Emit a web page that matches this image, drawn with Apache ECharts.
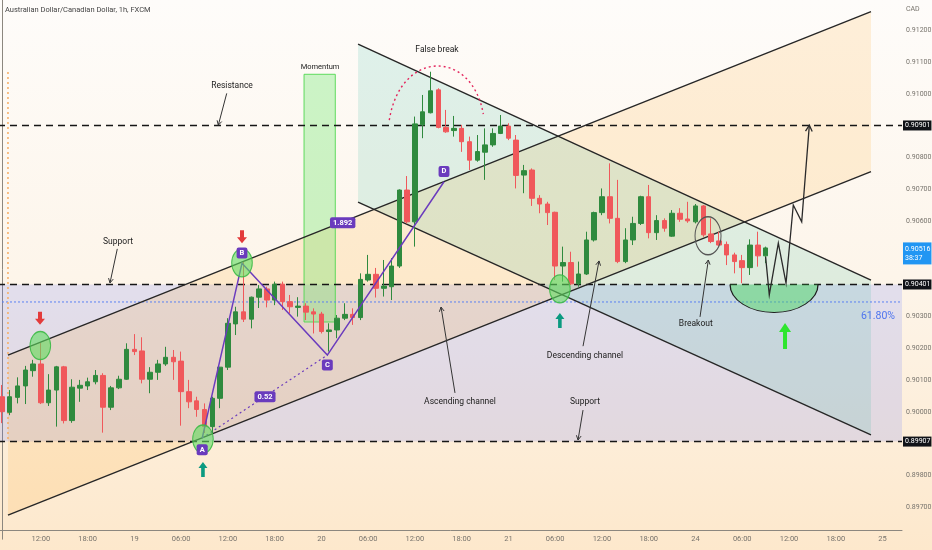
<!DOCTYPE html>
<html><head><meta charset="utf-8">
<script src="https://cdn.jsdelivr.net/npm/echarts/dist/echarts.min.js"></script>
<style>
html,body{margin:0;padding:0;background:#fff;}
#c{width:932px;height:550px;background:linear-gradient(to bottom,#fefcfa 0%,#fdf5ea 50%,#fde8cc 100%);}
</style></head><body><div id="c"></div>
<script>
const FONT = '"Liberation Sans Narrow","Roboto","Noto Sans",sans-serif';

// ---- axis / ticks ----
const slotCount = 116;               // hourly slots shown
const firstTickSlot = 5;             // 18th 12:00
const tickEvery = 6;
const tickLabels = ['12:00','18:00','19','06:00','12:00','18:00','20','06:00','12:00','18:00','21','06:00','12:00','18:00','24','06:00','12:00','18:00','25'];
const yMin = 0.896, yMax = 0.913, yStep = 0.001;

// ---- candles [open, close, low, high] ----
const candles = [
[0.90048,0.90001,0.89965,0.90085],[0.89999,0.90048,0.89990,0.90069],[0.90046,0.90082,0.90027,0.90109],[0.90082,0.90132,0.90025,0.90145],
[0.90130,0.90151,0.90111,0.90164],[0.90151,0.90029,0.90025,0.90217],[0.90029,0.90069,0.90019,0.90119],[0.90069,0.90142,0.89954,0.90145],
[0.90142,0.89973,0.89964,0.90145],[0.89973,0.90078,0.89966,0.90103],[0.90075,0.90084,0.90032,0.90101],[0.90082,0.90095,0.90069,0.90108],
[0.90095,0.90115,0.90087,0.90132],[0.90115,0.90015,0.89935,0.90122],[0.90015,0.90076,0.90006,0.90082],[0.90076,0.90103,0.90072,0.90114],
[0.90103,0.90197,0.90101,0.90216],[0.90197,0.90190,0.90179,0.90245],[0.90192,0.90103,0.90090,0.90235],[0.90103,0.90125,0.90059,0.90141],
[0.90125,0.90151,0.90101,0.90164],[0.90151,0.90172,0.90145,0.90205],[0.90172,0.90158,0.90101,0.90195],[0.90160,0.90064,0.89957,0.90190],
[0.90064,0.90032,0.90012,0.90101],[0.90035,0.90008,0.89985,0.90048],[0.90008,0.89954,0.89934,0.90027],[0.89954,0.90043,0.89930,0.90048],
[0.90043,0.90141,0.90012,0.90142],[0.90141,0.90279,0.90132,0.90295],[0.90277,0.90315,0.90242,0.90331],[0.90315,0.90292,0.90283,0.90472],
[0.90292,0.90361,0.90263,0.90363],[0.90361,0.90387,0.90327,0.90399],[0.90387,0.90352,0.90329,0.90394],[0.90352,0.90402,0.90336,0.90410],
[0.90402,0.90347,0.90321,0.90410],[0.90347,0.90331,0.90310,0.90368],[0.90329,0.90333,0.90300,0.90361],[0.90333,0.90314,0.90289,0.90342],
[0.90315,0.90308,0.90247,0.90326],[0.90308,0.90253,0.90247,0.90315],[0.90253,0.90258,0.90190,0.90279],[0.90258,0.90295,0.90232,0.90305],
[0.90295,0.90307,0.90289,0.90342],[0.90307,0.90297,0.90274,0.90326],[0.90297,0.90417,0.90289,0.90436],[0.90415,0.90433,0.90410,0.90494],
[0.90433,0.90389,0.90360,0.90453],[0.90389,0.90396,0.90363,0.90478],[0.90394,0.90459,0.90352,0.90484],[0.90459,0.90698,0.90453,0.90700],
[0.90698,0.90598,0.90593,0.90742],[0.90598,0.90906,0.90520,0.90929],[0.90903,0.90944,0.90861,0.90997],[0.90941,0.91010,0.90939,0.91070],
[0.91013,0.90895,0.90892,0.91018],[0.90895,0.90881,0.90878,0.90950],[0.90885,0.90892,0.90866,0.90931],[0.90892,0.90850,0.90818,0.90903],
[0.90850,0.90792,0.90761,0.90866],[0.90792,0.90819,0.90787,0.90871],[0.90817,0.90840,0.90730,0.90892],[0.90840,0.90876,0.90834,0.90892],
[0.90876,0.90899,0.90874,0.90934],[0.90899,0.90861,0.90855,0.90908],[0.90855,0.90744,0.90703,0.90871],[0.90745,0.90759,0.90688,0.90777],
[0.90761,0.90672,0.90648,0.90766],[0.90672,0.90654,0.90625,0.90682],[0.90654,0.90627,0.90588,0.90661],[0.90628,0.90459,0.90415,0.90630],
[0.90459,0.90470,0.90410,0.90520],[0.90470,0.90403,0.90399,0.90504],[0.90403,0.90434,0.90394,0.90473],[0.90434,0.90541,0.90431,0.90567],
[0.90541,0.90627,0.90536,0.90630],[0.90627,0.90677,0.90619,0.90703],[0.90677,0.90609,0.90593,0.90782],[0.90609,0.90473,0.90468,0.90730],
[0.90473,0.90541,0.90468,0.90578],[0.90541,0.90593,0.90525,0.90614],[0.90593,0.90677,0.90588,0.90680],[0.90677,0.90564,0.90546,0.90714],
[0.90564,0.90602,0.90541,0.90619],[0.90602,0.90578,0.90567,0.90609],[0.90553,0.90625,0.90551,0.90635],[0.90625,0.90606,0.90598,0.90641],
[0.90607,0.90601,0.90595,0.90661],[0.90598,0.90648,0.90593,0.90654],[0.90648,0.90557,0.90551,0.90651],[0.90560,0.90536,0.90531,0.90609],
[0.90538,0.90525,0.90520,0.90567],[0.90527,0.90494,0.90462,0.90536],[0.90494,0.90473,0.90436,0.90501],[0.90476,0.90454,0.90405,0.90494],
[0.90454,0.90525,0.90431,0.90543],[0.90525,0.90491,0.90457,0.90567],[0.90491,0.90516,0.90468,0.90520]
];

// ---- price levels ----
const levels = [0.90901, 0.90401, 0.89907];
const zoneBand = [0.89907, 0.90401];
const fibLevel = 0.90346;
const fibText = '61.80%';
const fibTextAt = [114.6, 0.90302];
const lastPrice = 0.90516;
const countdown = '38:37';
const hiddenTicks = [0.896, 0.913, 0.899, 0.904, 0.905, 0.909];

// ---- drawings, in [slot, price] ----
const ascUpper = [[0.78, 0.90179], [111.52, 0.91259]];
const ascLower = [[0.78, 0.89676], [111.52, 0.90756]];
const descUpper = [[45.70, 0.91157], [111.52, 0.90415]];
const descLower = [[45.70, 0.90660], [111.52, 0.89928]];
const momentumBox = [[38.77, 0.91062], [42.78, 0.90283]];
const orangeVLine = [[0.78, 0.91069], [0.78, 0.89907]];
const patternPoints = [[25.7, 0.89918], [30.81, 0.90468], [41.76, 0.90179], [56.73, 0.90724]];
const patternNames = ['A', 'B', 'C', 'D'];
const patternLabelAt = [[25.7, 0.89881], [30.81, 0.90500], [41.76, 0.90148], [56.73, 0.90756]];
const ratioTexts = ['0.52', '1.892'];
const ratioAt = [[33.76, 0.90048], [43.73, 0.90595]];
const greenCircles = [[4.93, 0.90209], [30.81, 0.90469], [25.8, 0.89915], [71.6, 0.90387]];
const redArrowTips = [[4.89, 0.90274], [30.81, 0.90531]];
const tealArrowTips = [[25.8, 0.89843], [71.6, 0.90311]];
const greenArrowTip = [100.49, 0.90280];
const falseBreakArc = [[49.71, 0.90918], [55.79, 0.91088], [61.77, 0.90937]];
const breakoutRing = [90.61, 0.90554];
const cupCenter = [99.08, 0.90401];
const forecastPath = [[98, 0.90488], [98.47, 0.90368], [99.63, 0.90531], [100.62, 0.90405], [101.55, 0.90651], [102.63, 0.90598], [103.61, 0.90902]];
const noteTexts = ['Resistance', 'Support', 'Support', 'Ascending channel', 'Descending channel', 'Breakout', 'False break', 'Momentum'];
const noteAt = [[29.53, 0.91025], [14.90, 0.90535], [74.82, 0.90031], [58.78, 0.90031], [74.82, 0.90176], [89.04, 0.90276], [55.83, 0.91138], [40.82, 0.91085]];
const noteArrows = [
  [[28.85, 0.91002], [27.77, 0.90902]],
  [[14.81, 0.90513], [13.87, 0.90406]],
  [[74.57, 0.90006], [73.93, 0.89912]],
  [[58.14, 0.90060], [56.35, 0.90330]],
  [[74.57, 0.90207], [76.62, 0.90475]],
  [[89.58, 0.90299], [90.65, 0.90478]],
  null, null
];

const categories = [];
for (let i = 0; i < slotCount; i++) categories.push(String(i));

function head(p1, p2, len) {
  const a = Math.atan2(p2[1] - p1[1], p2[0] - p1[0]);
  return [[p2[0] + len * Math.cos(a + Math.PI - 0.5), p2[1] + len * Math.sin(a + Math.PI - 0.5)], p2,
          [p2[0] + len * Math.cos(a + Math.PI + 0.5), p2[1] + len * Math.sin(a + Math.PI + 0.5)]];
}
function shift(shape, t) { return shape.map(p => [p[0] + t[0], p[1] + t[1]]); }

function renderBg(params, api) {
  const c = p => api.coord(p);
  const ch = [];
  const L = c([-0.5, zoneBand[1]]), R = c([slotCount - 0.5, zoneBand[0]]);
  ch.push({type: 'rect', shape: {x: L[0], y: L[1], width: R[0] - L[0], height: R[1] - L[1]}, style: {fill: 'rgba(95,115,255,0.17)'}});
  ch.push({type: 'polygon', shape: {points: [c(ascUpper[0]), c(ascUpper[1]), c(ascLower[1]), c(ascLower[0])]}, style: {fill: 'rgba(255,152,0,0.13)'}});
  ch.push({type: 'polygon', shape: {points: [c(descUpper[0]), c(descUpper[1]), c(descLower[1]), c(descLower[0])]}, style: {fill: 'rgba(0,170,140,0.12)'}});
  const m1 = c(momentumBox[0]), m2 = c(momentumBox[1]);
  ch.push({type: 'rect', shape: {x: m1[0], y: m1[1], width: m2[0] - m1[0], height: m2[1] - m1[1]}, style: {fill: 'rgba(90,230,90,0.30)', stroke: 'rgba(80,215,80,0.9)', lineWidth: 1}});
  levels.forEach(v => {
    const a = c([-0.5, v]), b = c([slotCount - 0.5, v]);
    ch.push({type: 'line', shape: {x1: a[0], y1: a[1], x2: b[0], y2: b[1]}, style: {stroke: '#161616', lineWidth: 1.5, lineDash: [7, 5]}});
  });
  const fa = c([-0.5, fibLevel]), fb = c([slotCount - 0.5, fibLevel]);
  ch.push({type: 'line', shape: {x1: fa[0], y1: fa[1], x2: fb[0], y2: fb[1]}, style: {stroke: '#5a80f2', lineWidth: 1, lineDash: [2, 2]}});
  [ascUpper, ascLower, descUpper, descLower].forEach(ln => {
    const a = c(ln[0]), b = c(ln[1]);
    ch.push({type: 'line', shape: {x1: a[0], y1: a[1], x2: b[0], y2: b[1]}, style: {stroke: '#262626', lineWidth: 1.4}});
  });
  const o1 = c(orangeVLine[0]), o2 = c(orangeVLine[1]);
  ch.push({type: 'line', shape: {x1: o1[0], y1: o1[1], x2: o2[0], y2: o2[1]}, style: {stroke: '#f5ac63', lineWidth: 1.5, lineDash: [2, 3]}});
  return {type: 'group', children: ch};
}

function txt(x, y, text, opt) {
  return {type: 'text', x: x, y: y, style: Object.assign({text: text, fontFamily: FONT, fontSize: 8.5, fill: '#1b1b1b', align: 'center', verticalAlign: 'middle'}, opt || {})};
}

function renderFg(params, api) {
  const c = p => api.coord(p);
  const ch = [];
  // cup
  const cc = c(cupCenter);
  ch.push({type: 'sector', x: cc[0], y: cc[1], scaleY: 28 / 44, shape: {cx: 0, cy: 0, r0: 0, r: 44, startAngle: 0, endAngle: Math.PI, clockwise: true}, style: {fill: 'rgba(70,215,90,0.45)'}});
  ch.push({type: 'arc', x: cc[0], y: cc[1], scaleY: 28 / 44, shape: {cx: 0, cy: 0, r: 44, startAngle: 0, endAngle: Math.PI, clockwise: true}, style: {fill: null, stroke: '#1c1c1c', lineWidth: 1.3, strokeNoScale: true}});
  // pattern
  const pp = patternPoints.map(c);
  ch.push({type: 'polyline', shape: {points: pp}, style: {stroke: '#6a3bbd', lineWidth: 1.5, fill: null}});
  ch.push({type: 'line', shape: {x1: pp[0][0], y1: pp[0][1], x2: pp[2][0], y2: pp[2][1]}, style: {stroke: '#6a3bbd', lineWidth: 1.2, lineDash: [2, 3]}});
  // green circles
  greenCircles.forEach(p => {
    const q = c(p);
    ch.push({type: 'circle', x: q[0], y: q[1], scaleY: 14 / 10.3, shape: {cx: 0, cy: 0, r: 10.3}, style: {fill: 'rgba(95,220,95,0.6)', stroke: 'rgba(60,185,70,0.9)', lineWidth: 1, strokeNoScale: true}});
  });
  // thick arrows
  const redShape = [[0, 0], [-5, -6], [-2, -6], [-2, -13], [2, -13], [2, -6], [5, -6]];
  const tealShape = [[0, 0], [-4.5, 6], [-1.8, 6], [-1.8, 15], [1.8, 15], [1.8, 6], [4.5, 6]];
  const greenShape = [[0, 0], [-6, 9], [-2, 9], [-2, 26], [2, 26], [2, 9], [6, 9]];
  redArrowTips.forEach(p => ch.push({type: 'polygon', shape: {points: shift(redShape, c(p))}, style: {fill: '#e33b3b'}}));
  tealArrowTips.forEach(p => ch.push({type: 'polygon', shape: {points: shift(tealShape, c(p))}, style: {fill: '#0b9a80'}}));
  ch.push({type: 'polygon', shape: {points: shift(greenShape, c(greenArrowTip))}, style: {fill: '#2ee62e'}});
  // note arrows + texts
  noteArrows.forEach(a => {
    if (!a) return;
    const p1 = c(a[0]), p2 = c(a[1]);
    ch.push({type: 'line', shape: {x1: p1[0], y1: p1[1], x2: p2[0], y2: p2[1]}, style: {stroke: '#333', lineWidth: 1}});
    ch.push({type: 'polyline', shape: {points: head(p1, p2, 5)}, style: {stroke: '#333', lineWidth: 1, fill: null}});
  });
  noteTexts.forEach((t, i) => {
    const q = c(noteAt[i]);
    ch.push(txt(q[0], q[1], t, {fontSize: t === 'Momentum' ? 7.5 : 8.5}));
  });
  // breakout ring
  const br = c(breakoutRing);
  ch.push({type: 'circle', x: br[0], y: br[1], scaleY: 19 / 13, shape: {cx: 0, cy: 0, r: 13}, style: {fill: null, stroke: '#555', lineWidth: 1, strokeNoScale: true}});
  // forecast
  const fp = forecastPath.map(c);
  ch.push({type: 'polyline', shape: {points: fp}, style: {stroke: '#2a2a2a', lineWidth: 1.3, fill: null}});
  ch.push({type: 'polyline', shape: {points: head(fp[fp.length - 2], fp[fp.length - 1], 7)}, style: {stroke: '#2a2a2a', lineWidth: 1.3, fill: null}});
  // false break arc
  const a0 = c(falseBreakArc[0]), pk = c(falseBreakArc[1]), a3 = c(falseBreakArc[2]);
  const cy = (pk[1] - 0.125 * (a0[1] + a3[1])) / 0.75;
  const w = a3[0] - a0[0];
  ch.push({type: 'bezierCurve', shape: {x1: a0[0], y1: a0[1], x2: a3[0], y2: a3[1], cpx1: a0[0] + 0.12 * w, cpy1: cy, cpx2: a3[0] - 0.12 * w, cpy2: cy}, style: {stroke: '#e3245c', lineWidth: 1.4, lineDash: [2, 3], fill: null}});
  // pattern labels
  const box = {fill: '#fff', backgroundColor: '#6a3bbd', padding: [2, 3, 1, 3], borderRadius: 2, fontSize: 7.5, fontWeight: 'bold'};
  patternNames.forEach((t, i) => { const q = c(patternLabelAt[i]); ch.push(txt(q[0], q[1], t, box)); });
  ratioTexts.forEach((t, i) => { const q = c(ratioAt[i]); ch.push(txt(q[0], q[1], t, box)); });
  // fib label
  const ft = c(fibTextAt);
  ch.push(txt(ft[0], ft[1], fibText, {fill: '#4d74ee', fontSize: 10.5, align: 'right'}));
  // price boxes on the axis
  levels.forEach(v => {
    const q = c([slotCount - 0.5, v]);
    ch.push(txt(q[0] + 1, q[1], v.toFixed(5), {fill: '#fff', backgroundColor: '#111318', padding: [2, 1, 1, 2], fontSize: 7, align: 'left'}));
  });
  const lp = c([slotCount - 0.5, lastPrice]);
  ch.push(txt(lp[0] + 1, lp[1] - 5.5, lastPrice.toFixed(5) + '\n' + countdown, {fill: '#fff', backgroundColor: '#2196f3', padding: [2, 1, 1, 2], fontSize: 7, lineHeight: 9.5, align: 'left', verticalAlign: 'top'}));
  return {type: 'group', children: ch};
}

const chart = echarts.init(document.getElementById('c'), null, {renderer: 'canvas'});
chart.setOption({
  animation: false,
  backgroundColor: 'transparent',
  textStyle: {fontFamily: FONT},
  grid: {left: -2, right: 30, top: -1.4, bottom: 10.8, containLabel: false, outerBoundsMode: 'none'},
  xAxis: [{
    type: 'category', data: categories, boundaryGap: true, offset: -9.2,
    axisLine: {lineStyle: {color: '#8c877f', width: 1}},
    axisTick: {show: false},
    splitLine: {show: false},
    axisLabel: {
      color: '#77736c', fontSize: 7.5, fontFamily: FONT, margin: 5,
      interval: i => i >= firstTickSlot && (i - firstTickSlot) % tickEvery === 0,
      formatter: (v, i) => { const k = (i - firstTickSlot) / tickEvery; return (k >= 0 && Number.isInteger(k) && tickLabels[k]) ? tickLabels[k] : ''; }
    }
  }, {
    type: 'value', min: -0.5, max: slotCount - 0.5, show: false
  }],
  yAxis: [{
    type: 'value', position: 'right', min: yMin, max: yMax, interval: yStep, scale: true,
    axisLine: {show: true, lineStyle: {color: '#8c877f', width: 1}},
    axisTick: {show: false},
    splitLine: {show: false},
    axisLabel: {
      color: '#77736c', fontSize: 7, fontFamily: FONT, margin: 4,
      formatter: v => hiddenTicks.some(h => Math.abs(h - v) < 1e-6) ? '' : v.toFixed(5)
    }
  }],
  graphic: [
    {type: 'text', left: 5, top: 6, style: {text: 'Australian Dollar/Canadian Dollar, 1h, FXCM', fill: '#444', fontSize: 7.5, fontFamily: FONT}},
    {type: 'text', left: 906, top: 6, style: {text: 'CAD', fill: '#77736c', fontSize: 7, fontFamily: FONT}}
  ],
  series: [
    {type: 'custom', name: 'zones', xAxisIndex: 1, yAxisIndex: 0, z: 1, clip: false, silent: true, data: [[0, 0.9]], renderItem: renderBg},
    {type: 'candlestick', name: 'AUDCAD', xAxisIndex: 0, yAxisIndex: 0, z: 2, barWidth: 5, data: candles,
     itemStyle: {color: '#2f8a3e', color0: '#f0585b', borderColor: '#2f8a3e', borderColor0: '#f0585b', borderWidth: 1}},
    {type: 'custom', name: 'drawings', xAxisIndex: 1, yAxisIndex: 0, z: 3, clip: false, silent: true, data: [[0, 0.9]], renderItem: renderFg}
  ]
});
</script></body></html>
